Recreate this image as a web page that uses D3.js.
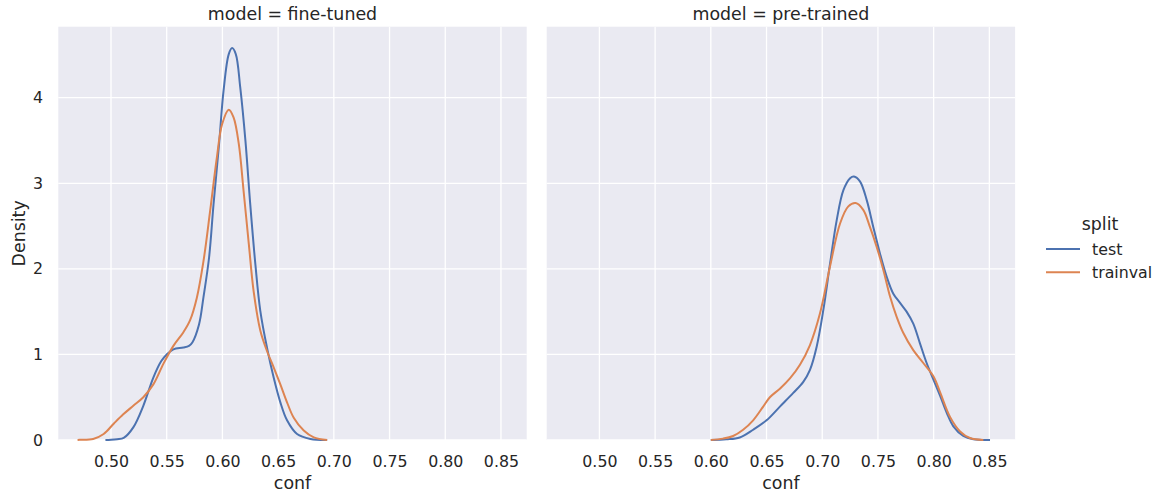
<!DOCTYPE html>
<meta charset="utf-8">
<style>
  body { margin: 0; background: #fff; }
  text { font-family: "DejaVu Sans", sans-serif; fill: #262626; }
</style>
<script src="https://d3js.org/d3.v7.min.js"></script>
<div id="chart"></div>
<script>

// facets and hue levels
var models = ["fine-tuned", "pre-trained"];
var splits = ["test", "trainval"];
var colors = ["#4C72B0", "#DD8452"];

// tick values
var xTicks = [0.50, 0.55, 0.60, 0.65, 0.70, 0.75, 0.80, 0.85];
var yTicks = [0, 1, 2, 3, 4];

// kde curves: [conf, density]
var fineTunedTest = [[0.495,0],[0.500,0.003],[0.5055,0.01],[0.5114,0.025],[0.520,0.148],[0.529,0.40],
  [0.538,0.73],[0.545,0.92],[0.550,1.00],[0.556,1.06],[0.565,1.08],[0.570,1.10],[0.573,1.14],[0.579,1.35],
  [0.583,1.67],[0.588,2.13],[0.592,2.75],[0.597,3.46],[0.601,4.08],[0.6057,4.51],[0.6087,4.58],[0.612,4.51],
  [0.616,4.12],[0.6207,3.49],[0.625,2.75],[0.6296,2.05],[0.634,1.51],[0.640,1.08],[0.646,0.73],[0.652,0.44],
  [0.658,0.23],[0.667,0.07],[0.679,0.012],[0.694,0]];
var fineTunedTrainval = [[0.470,0],[0.4725,0.002],[0.484,0.012],[0.4934,0.07],[0.5024,0.19],[0.511,0.30],
  [0.520,0.40],[0.529,0.50],[0.538,0.65],[0.547,0.89],[0.556,1.10],[0.565,1.26],[0.571,1.40],[0.577,1.66],
  [0.583,2.09],[0.589,2.68],[0.595,3.30],[0.5997,3.69],[0.6057,3.86],[0.610,3.77],[0.6147,3.46],[0.619,2.91],
  [0.6237,2.29],[0.628,1.74],[0.634,1.28],[0.640,1.04],[0.646,0.85],[0.652,0.65],[0.658,0.44],[0.664,0.26],
  [0.673,0.11],[0.682,0.03],[0.694,0]];
var preTrainedTest = [[0.600,0],[0.614,0.008],[0.626,0.03],[0.638,0.12],[0.650,0.23],[0.662,0.39],[0.674,0.55],
  [0.683,0.68],[0.689,0.82],[0.695,1.09],[0.701,1.52],[0.707,2.06],[0.713,2.57],[0.719,2.92],[0.725,3.06],
  [0.7284,3.08],[0.734,3.02],[0.740,2.80],[0.7458,2.49],[0.7518,2.18],[0.7578,1.91],[0.7638,1.71],[0.770,1.60],
  [0.7757,1.50],[0.7817,1.36],[0.7877,1.13],[0.7937,0.90],[0.800,0.70],[0.806,0.51],[0.812,0.31],[0.8177,0.16],
  [0.8266,0.047],[0.8356,0.008],[0.8506,0]];
var preTrainedTrainval = [[0.600,0],[0.611,0.016],[0.620,0.047],[0.629,0.12],[0.638,0.23],[0.647,0.39],
  [0.653,0.50],[0.662,0.60],[0.671,0.72],[0.680,0.88],[0.689,1.11],[0.698,1.48],[0.707,2.03],[0.716,2.53],
  [0.7234,2.73],[0.730,2.77],[0.7368,2.69],[0.7428,2.49],[0.7488,2.26],[0.7548,1.99],[0.7608,1.68],
  [0.7668,1.44],[0.7728,1.25],[0.7817,1.05],[0.7907,0.90],[0.800,0.74],[0.806,0.55],[0.8147,0.27],
  [0.8237,0.10],[0.8326,0.023],[0.8446,0]];

var curves = [[fineTunedTest, fineTunedTrainval], [preTrainedTest, preTrainedTrainval]];

var W = 1161, H = 495;
var panelW = 468.4, panelTop = 26.7, panelBottom = 440;
var panelLeft = [58.3, 546.7];
var labelSize = "17.4px", tickSize = "15.8px";

var svg = d3.select("#chart").append("svg")
  .attr("width", W)
  .attr("height", H);

var y = d3.scaleLinear().domain([0, 4.83]).range([panelBottom, panelTop]);

models.forEach(function(m, i) {
  var x = d3.scaleLinear().domain([0.4527, 0.8731]).range([0, panelW]);
  var g = svg.append("g").attr("transform", "translate(" + panelLeft[i] + ",0)");

  g.append("rect")
    .attr("x", 0).attr("y", panelTop)
    .attr("width", panelW).attr("height", panelBottom - panelTop)
    .attr("fill", "#EAEAF2");

  // grid
  g.selectAll(".vgrid").data(xTicks).enter().append("line")
    .attr("x1", function(d) { return x(d); }).attr("x2", function(d) { return x(d); })
    .attr("y1", panelTop).attr("y2", panelBottom)
    .attr("stroke", "#fff").attr("stroke-width", 1.3);
  g.selectAll(".hgrid").data(yTicks).enter().append("line")
    .attr("x1", 0).attr("x2", panelW)
    .attr("y1", function(d) { return y(d); }).attr("y2", function(d) { return y(d); })
    .attr("stroke", "#fff").attr("stroke-width", 1.3);

  // x axis
  var xa = g.append("g")
    .attr("transform", "translate(0," + panelBottom + ")")
    .call(d3.axisBottom(x).tickValues(xTicks).tickFormat(d3.format(".2f")).tickSize(0).tickPadding(15.8));
  xa.select(".domain").remove();
  xa.selectAll("text").style("font-size", tickSize).attr("fill", "#262626");

  if (i === 0) {
    var ya = g.append("g")
      .call(d3.axisLeft(y).tickValues(yTicks).tickFormat(d3.format("d")).tickSize(0).tickPadding(15.3));
    ya.select(".domain").remove();
    ya.selectAll("text").style("font-size", tickSize).attr("fill", "#262626");

    svg.append("text")
      .attr("transform", "translate(25," + (panelTop + panelBottom) / 2 + ") rotate(-90)")
      .attr("text-anchor", "middle")
      .style("font-size", labelSize)
      .text("Density");
  }

  g.append("text")
    .attr("x", panelW / 2).attr("y", 20)
    .attr("text-anchor", "middle")
    .style("font-size", labelSize)
    .text("model = " + m);

  g.append("text")
    .attr("x", panelW / 2).attr("y", 489)
    .attr("text-anchor", "middle")
    .style("font-size", labelSize)
    .text("conf");

  var line = d3.line()
    .x(function(d) { return x(d[0]); })
    .y(function(d) { return y(d[1]); })
    .curve(d3.curveCatmullRom.alpha(0.5));

  curves[i].forEach(function(c, j) {
    g.append("path")
      .datum(c)
      .attr("d", line)
      .attr("fill", "none")
      .attr("stroke", colors[j])
      .attr("stroke-width", 2)
      .attr("stroke-linejoin", "round");
  });
});

// legend
var legend = svg.append("g");
legend.append("text")
  .attr("x", 1100).attr("y", 230)
  .attr("text-anchor", "middle")
  .style("font-size", labelSize)
  .text("split");
splits.forEach(function(s, j) {
  var ly = [249, 272.3][j];
  legend.append("line")
    .attr("x1", 1046).attr("x2", 1080)
    .attr("y1", ly).attr("y2", ly)
    .attr("stroke", colors[j]).attr("stroke-width", 2);
  legend.append("text")
    .attr("x", 1092).attr("y", ly + 5.5)
    .style("font-size", tickSize)
    .text(s);
});

</script>
